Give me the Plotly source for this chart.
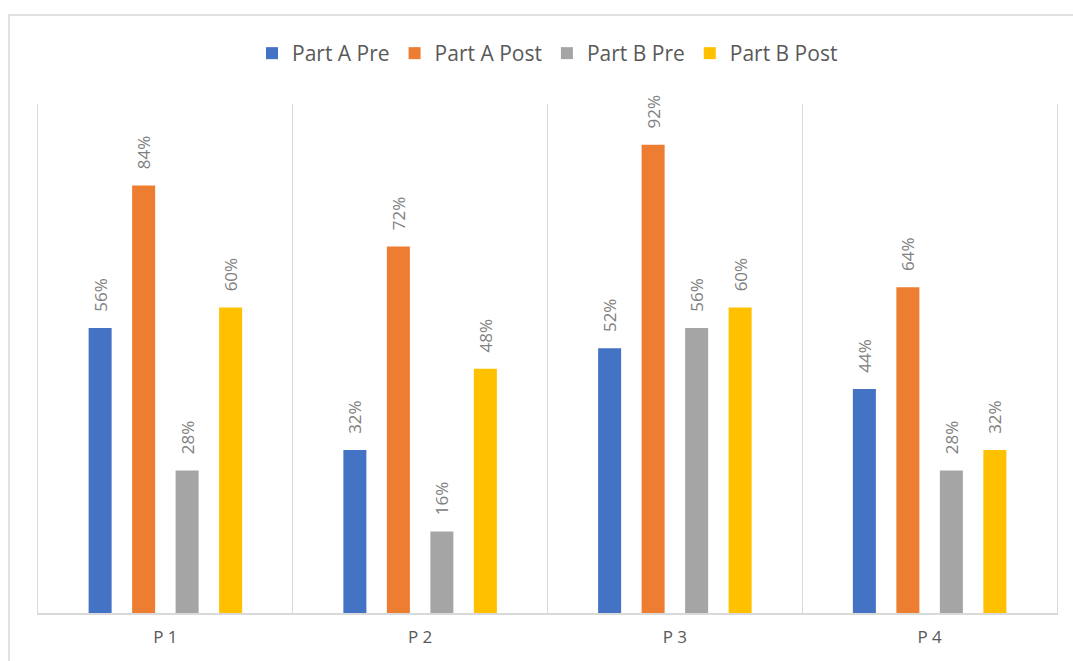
import plotly.graph_objects as go

categories = ["P 1", "P 2", "P 3", "P 4"]
series_names = ["Part A Pre", "Part A Post", "Part B Pre", "Part B Post"]
part_a_pre = [0.56, 0.32, 0.52, 0.44]
part_a_post = [0.84, 0.72, 0.92, 0.64]
part_b_pre = [0.28, 0.16, 0.56, 0.28]
part_b_post = [0.60, 0.48, 0.60, 0.32]
colors = ["#4472C4", "#ED7D31", "#A5A5A5", "#FFC000"]

FONT = "Open Sans"
fig = go.Figure()
for name, vals, col in zip(series_names, [part_a_pre, part_a_post, part_b_pre, part_b_post], colors):
    fig.add_trace(go.Bar(
        x=categories, y=vals, name=name,
        marker=dict(color=col, line=dict(width=0)),
        texttemplate="\u00a0\u00a0\u00a0%{y:.0%}",
        textposition="outside", textangle=-90, constraintext="none",
        textfont=dict(family=FONT, size=17, color="#808080"),
        cliponaxis=False,
    ))

fig.update_layout(
    width=1073, height=661,
    margin=dict(l=38, r=16, t=104, b=48),
    paper_bgcolor="white", plot_bgcolor="white",
    barmode="group", bargap=0.317, bargroupgap=0.471,
    font=dict(family=FONT, color="#595959"),
    showlegend=True,
    legend=dict(orientation="h", x=0.5, xanchor="center", y=1 + 30/509, yanchor="bottom",
                font=dict(family=FONT, size=21, color="#595959"),
                traceorder="normal"),
    xaxis=dict(type="category", tickson="boundaries", showgrid=True, gridcolor="#D9D9D9",
               gridwidth=1, showline=True, linecolor="#D9D9D9", linewidth=1.5,
               ticks="", ticklabelstandoff=8,
               tickfont=dict(family=FONT, size=17, color="#595959"),
               range=[-0.5, 3.5], zeroline=False),
    yaxis=dict(range=[0, 1], visible=True, showgrid=False, zeroline=False,
               showticklabels=False, ticks="", showline=True, mirror=True,
               linecolor="#D9D9D9", linewidth=1),
    shapes=[dict(type="rect", xref="paper", yref="paper",
                 x0=-29/1019, x1=1.2, y0=-0.2, y1=1 + 89/509,
                 line=dict(color="#D9D9D9", width=1.5), fillcolor="rgba(0,0,0,0)", layer="below")],
)
fig.write_html("out.html", config={"displayModeBar": False},
               post_script="document.body.style.margin='0px';")
